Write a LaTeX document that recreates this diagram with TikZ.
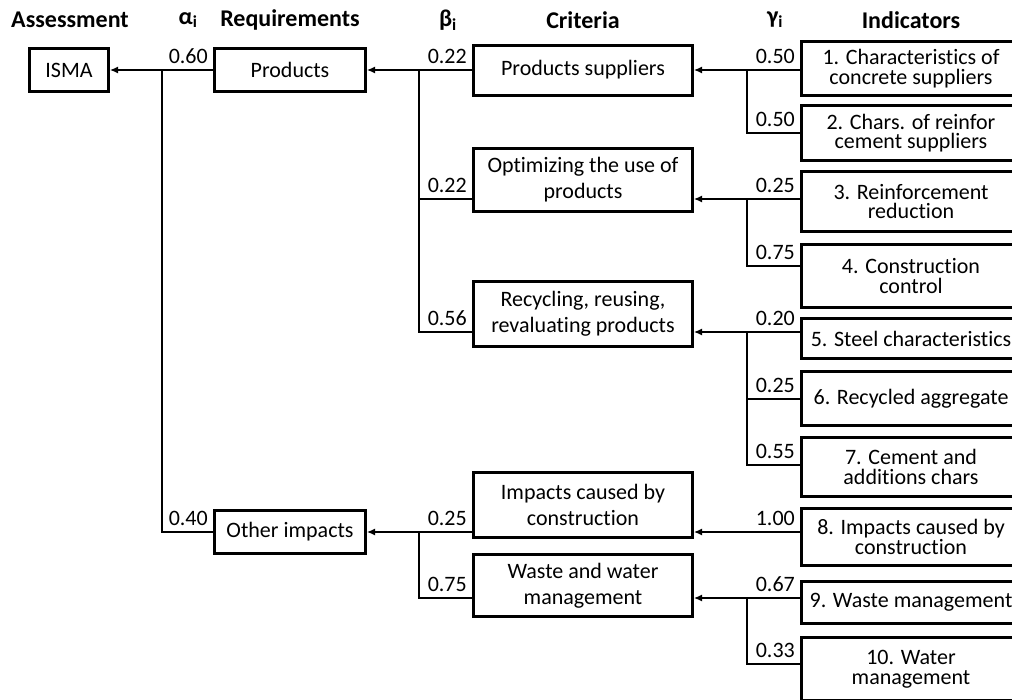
\documentclass[tikz,border=0pt]{standalone}
\usepackage{fontspec}
\setmainfont{Carlito}[Ligatures=NoCommon]
\usetikzlibrary{arrows.meta}
\setlength{\lineskiplimit}{-20pt}

\begin{document}
\begin{tikzpicture}[
  x=1pt,
  y=-1pt,
  box/.style={draw=black,line width=3pt,fill=white,inner sep=0pt,align=center,
    font=\fontsize{22}{26}\selectfont},
  topbox/.style={box,minimum height=43pt},
  critbox/.style={box,minimum width=219pt},
  indbox/.style={box,minimum width=219pt,font=\fontsize{22}{19.5}\selectfont},
  wire/.style={draw=black,line width=1.3pt},
  feed/.style={wire,-{Latex[length=8pt,width=7pt]}},
  weight/.style={anchor=south east,inner sep=0pt,xshift=-5pt,yshift=6pt,
    font=\fontsize{22}{22}\selectfont},
  head/.style={font=\fontsize{24}{24}\selectfont\bfseries}
]
  \useasboundingbox (0,0) rectangle (1012,699);

  % Column headings.
  \node[head] (hAssess) at (70,20) {Assessment};
  \node[head] (hAlpha) at (188,20) {α\textsubscript{i}};
  \node[head] (hReq) at (290,20) {Requirements};
  \node[head] (hBeta) at (448,20) {β\textsubscript{i}};
  \node[head] (hCrit) at (583,20) {Criteria};
  \node[head] (hGamma) at (775,20) {γ\textsubscript{i}};
  \node[head] (hInd) at (911,20) {Indicators};

  % Assessment and requirements.
  \node[topbox,minimum width=79pt] (isma) at (69,70) {ISMA};
  \node[topbox,minimum width=151pt] (prod) at (290,70) {Products};
  \node[topbox,minimum width=151pt] (other) at (290,532) {Other impacts};

  % Criteria.
  \node[critbox,minimum height=50pt] (supp) at (583,70) {Products suppliers};
  \node[critbox,minimum height=63pt] (optim) at (583,180) {Optimizing the use of\\products};
  \node[critbox,minimum height=65pt] (recyc) at (583,314) {Recycling, reusing,\\revaluating products};
  \node[critbox,minimum height=65pt] (constr) at (583,505) {Impacts caused by\\construction};
  \node[critbox,minimum height=62pt] (waste) at (583,585.5) {Waste and water\\management};

  % Indicators; the boxes run past the right edge of the page.
  \foreach \n/\yc/\h/\txt in {
      1/68.5/54/{1. Characteristics of\\concrete suppliers},
      2/133/55/{2. Chars. of reinfor\\cement suppliers},
      3/201.5/60/{3. Reinforcement\\reduction},
      4/276/63/{4. Construction\\control},
      5/338.5/40/{5. Steel characteristics},
      6/398.5/54/{6. Recycled aggregate},
      7/467/59/{7. Cement and\\additions chars},
      8/537/57/{8. Impacts caused by\\construction},
      9/602.5/42/{9. Waste management},
      10/669/63/{10. Water\\management}} {
    \node[indbox,minimum height=\h pt] (ind\n) at (911,\yc) {\txt};
  }

  % Ports where the connectors meet the boxes.
  \coordinate (a0) at (162,70);
  \coordinate (b1) at (419,70);
  \coordinate (b2) at (419,532);
  \coordinate (pOptim) at (472,199);
  \coordinate (pRecyc) at (472,332);
  \coordinate (pConstr) at (472,532);
  \coordinate (pWaste) at (472,598);
  \coordinate (eOptim) at (694,199);
  \coordinate (eRecyc) at (694,332);
  \coordinate (eConstr) at (694,532);
  \coordinate (eWaste) at (694,598);
  \coordinate (g1) at (747,70);
  \coordinate (g2) at (747,199);
  \coordinate (g3) at (747,332);
  \coordinate (g5) at (747,598);
  \coordinate (q1) at (800,70);
  \coordinate (q2) at (800,133);
  \coordinate (q3) at (800,199);
  \coordinate (q4) at (800,266);
  \coordinate (q5) at (800,332);
  \coordinate (q6) at (800,399);
  \coordinate (q7) at (800,465);
  \coordinate (q8) at (800,532);
  \coordinate (q9) at (800,598);
  \coordinate (q10) at (800,664);

  % Requirements into the assessment.
  \draw[feed] (prod.west) -- (isma.east);
  \draw[wire] (a0) |- (other.west);

  % Criteria into the requirements.
  \draw[feed] (supp.west) -- (prod.east);
  \draw[wire] (b1) |- (pRecyc);
  \draw[wire] (b1 |- pOptim) -- (pOptim);
  \draw[feed] (pConstr) -- (other.east);
  \draw[wire] (b2) |- (pWaste);

  % Indicators into the criteria.
  \draw[feed] (q1) -- (supp.east);
  \foreach \q/\e in {q3/eOptim,q5/eRecyc,q8/eConstr,q9/eWaste} {
    \draw[feed] (\q) -- (\e);
  }
  \foreach \q/\g in {q2/g1,q4/g2,q6/g3,q7/g3,q10/g5} {
    \draw[wire] (\q) -| (\g);
  }

  % Weights.
  \node[weight] (wProd) at (prod.west) {0.60};
  \node[weight] (wOther) at (other.west) {0.40};
  \node[weight] (wSupp) at (supp.west) {0.22};
  \node[weight] (wOptim) at (pOptim) {0.22};
  \node[weight] (wRecyc) at (pRecyc) {0.56};
  \node[weight] (wConstr) at (pConstr) {0.25};
  \node[weight] (wWaste) at (pWaste) {0.75};
  \foreach \q/\w in {q1/0.50,q2/0.50,q3/0.25,q4/0.75,q5/0.20,
                     q6/0.25,q7/0.55,q8/1.00,q9/0.67,q10/0.33} {
    \node[weight] (w\q) at (\q) {\w};
  }
\end{tikzpicture}
\end{document}
